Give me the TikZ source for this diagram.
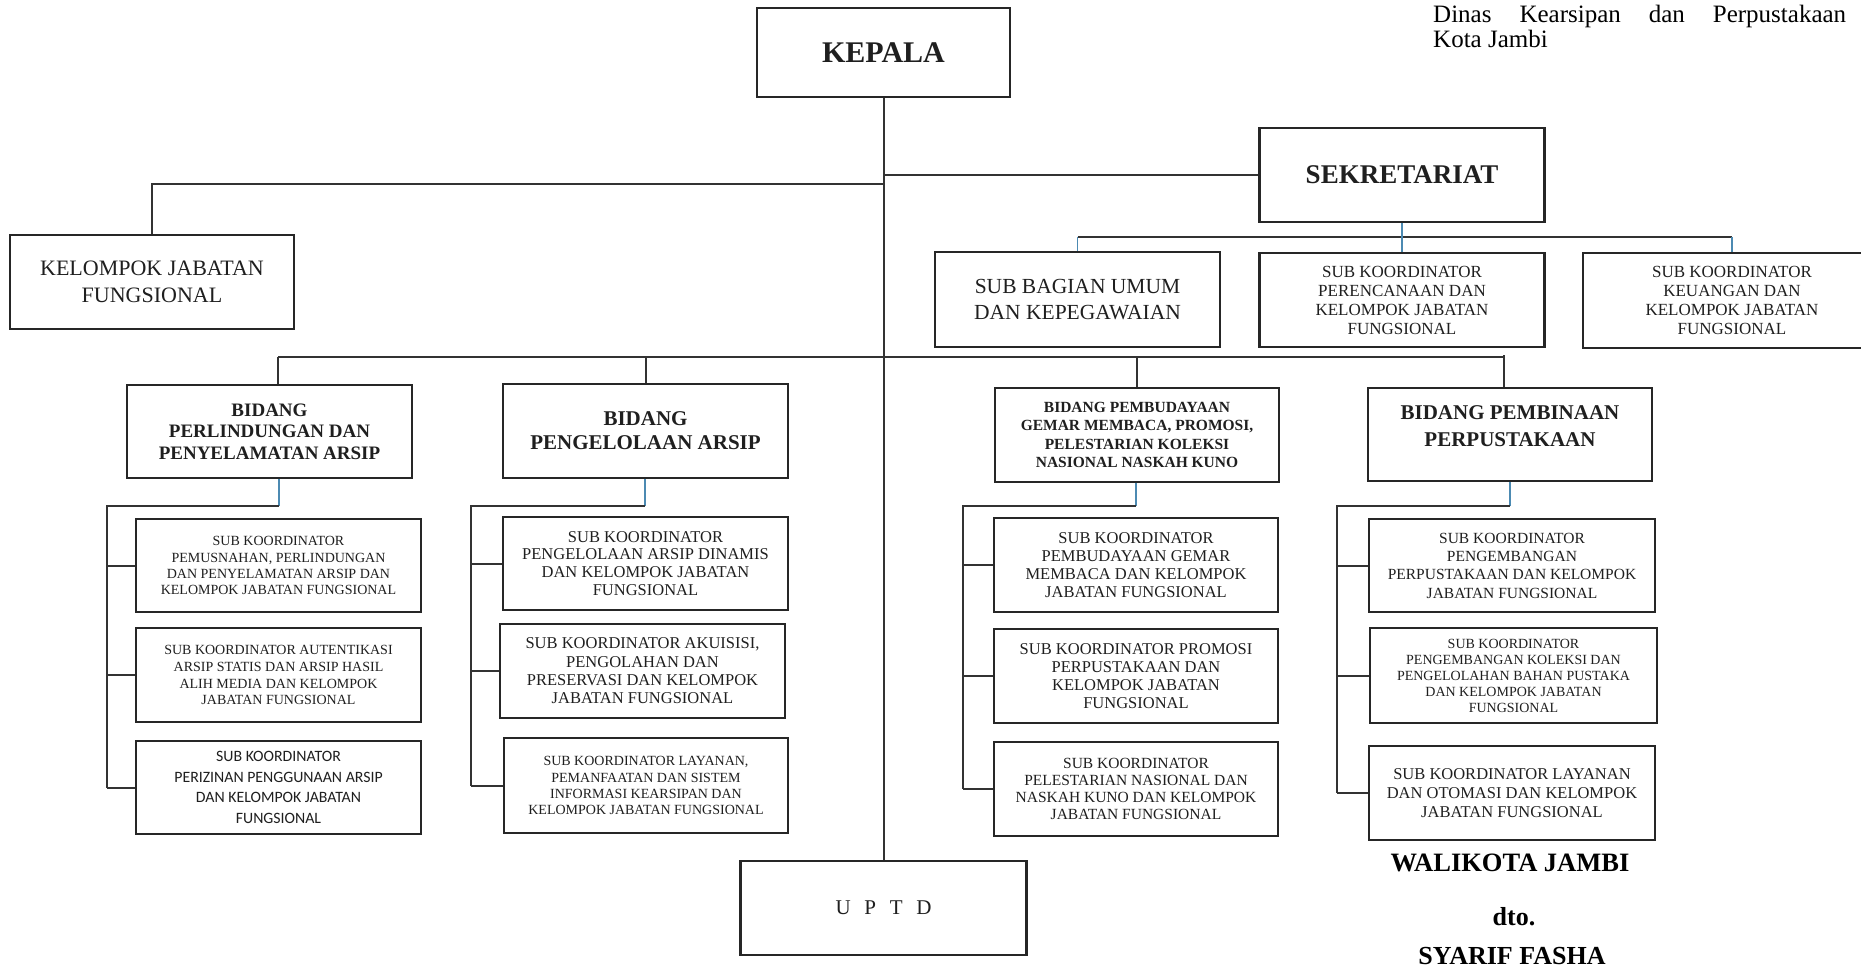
\documentclass[tikz,border=0pt]{standalone}
\usepackage{fontspec}
\setmainfont{Liberation Serif}
\newfontfamily\sansf{Carlito}
\newcommand{\FSZ}[2]{\fontsize{#1}{#2}\selectfont}
\begin{document}
\begin{tikzpicture}[x=1pt,y=-1pt,
  box/.style={draw=black!85, line width=2.2pt, fill=white, align=center, inner sep=0pt, text=black!88},
  conn/.style={draw=black!80, line width=2pt},
  bluelink/.style={draw=blue!40!cyan!40!gray, line width=1.2pt},
  plain/.style={inner sep=0pt, align=center}]
\useasboundingbox (0,0) rectangle (1861,967);
\clip (0,0) rectangle (1861,967);
\fill[white] (0,0) rectangle (1861,967);

% header text
\node[plain, anchor=base west, font=\FSZ{25}{28}] (hdra) at (1433,22) {\makebox[413pt][s]{Dinas\hfill Kearsipan\hfill dan\hfill Perpustakaan}};
\node[plain, anchor=base west, font=\FSZ{25}{28}] (hdrb) at (1433,47) {Kota Jambi};

% top level
\node[box, minimum width=253pt, minimum height=89pt, font=\bfseries\FSZ{30}{34}] (kepala) at (883.5,52.5) {KEPALA};
\node[box, minimum width=285pt, minimum height=94pt, font=\bfseries\FSZ{27}{30}] (sek) at (1402,175) {SEKRETARIAT};
\node[box, minimum width=284pt, minimum height=94pt, font=\FSZ{22}{27}] (kjf) at (152,282) {KELOMPOK JABATAN\\FUNGSIONAL};
\node[box, minimum width=286pt, minimum height=94pt, font=\FSZ{21}{24}] (uptd) at (883.5,908) {\makebox[96pt][s]{U\hfill P\hfill T\hfill D}};

% sekretariat children
\node[box, minimum width=285pt, minimum height=95pt, font=\FSZ{21.5}{26.7}] (sbu) at (1077.5,299.5) {SUB BAGIAN UMUM\\DAN KEPEGAWAIAN};
\node[box, minimum width=285pt, minimum height=94pt, font=\FSZ{17}{19}] (per) at (1402,300) {SUB KOORDINATOR\\PERENCANAAN DAN\\KELOMPOK JABATAN\\FUNGSIONAL};
\node[box, minimum width=298pt, minimum height=95pt, font=\FSZ{17}{19}] (keu) at (1732,300.5) {SUB KOORDINATOR\\KEUANGAN DAN\\KELOMPOK JABATAN\\FUNGSIONAL};

% bidang
\node[box, minimum width=285pt, minimum height=93pt, font=\bfseries\FSZ{19}{21.7}] (b1) at (269.5,431.5) {BIDANG\\PERLINDUNGAN DAN\\PENYELAMATAN ARSIP};
\node[box, minimum width=285pt, minimum height=94pt, font=\bfseries\FSZ{21}{24}] (b2) at (645.5,431) {BIDANG\\PENGELOLAAN ARSIP};
\node[box, minimum width=284pt, minimum height=94pt, font=\bfseries\FSZ{15.5}{18.3}] (b3) at (1137,435) {BIDANG PEMBUDAYAAN\\GEMAR MEMBACA, PROMOSI,\\PELESTARIAN KOLEKSI\\NASIONAL NASKAH KUNO};
\node[box, minimum width=284pt, minimum height=93pt, font=\bfseries\FSZ{21}{26.7}] (b4) at (1510,434.5) {BIDANG PEMBINAAN\\PERPUSTAKAAN\\[-10pt]};

% sub koordinator boxes
\node[box, minimum width=285pt, minimum height=93pt, font=\FSZ{14}{16.1}] (s11) at (278.5,565.5) {SUB KOORDINATOR\\PEMUSNAHAN, PERLINDUNGAN\\DAN PENYELAMATAN ARSIP DAN\\KELOMPOK JABATAN FUNGSIONAL};
\node[box, minimum width=285pt, minimum height=94pt, font=\FSZ{14}{16.9}] (s12) at (278.5,675) {SUB KOORDINATOR AUTENTIKASI\\ARSIP STATIS DAN ARSIP HASIL\\ALIH MEDIA DAN KELOMPOK\\JABATAN FUNGSIONAL};
\node[box, minimum width=285pt, minimum height=93pt, font=\sansf\FSZ{15.8}{20.6}] (s13) at (278.5,787.5) {SUB KOORDINATOR\\PERIZINAN PENGGUNAAN ARSIP\\DAN KELOMPOK JABATAN\\FUNGSIONAL};

\node[box, minimum width=285pt, minimum height=93pt, font=\FSZ{16.5}{17.8}] (s21) at (645.5,563.5) {SUB KOORDINATOR\\PENGELOLAAN ARSIP DINAMIS\\DAN KELOMPOK JABATAN\\FUNGSIONAL};
\node[box, minimum width=285pt, minimum height=94pt, font=\FSZ{16.5}{18.3}] (s22) at (642.5,671) {SUB KOORDINATOR AKUISISI,\\PENGOLAHAN DAN\\PRESERVASI DAN KELOMPOK\\JABATAN FUNGSIONAL};
\node[box, minimum width=284pt, minimum height=95pt, font=\FSZ{14}{16.1}] (s23) at (646,785.5) {SUB KOORDINATOR LAYANAN,\\PEMANFAATAN DAN SISTEM\\INFORMASI KEARSIPAN DAN\\KELOMPOK JABATAN FUNGSIONAL};

\node[box, minimum width=284pt, minimum height=94pt, font=\FSZ{16.5}{17.8}] (s31) at (1136,565) {SUB KOORDINATOR\\PEMBUDAYAAN GEMAR\\MEMBACA DAN KELOMPOK\\JABATAN FUNGSIONAL};
\node[box, minimum width=284pt, minimum height=94pt, font=\FSZ{16.5}{17.8}] (s32) at (1136,676) {SUB KOORDINATOR PROMOSI\\PERPUSTAKAAN DAN\\KELOMPOK JABATAN\\FUNGSIONAL};
\node[box, minimum width=284pt, minimum height=94pt, font=\FSZ{15.5}{17.2}] (s33) at (1136,789) {SUB KOORDINATOR\\PELESTARIAN NASIONAL DAN\\NASKAH KUNO DAN KELOMPOK\\JABATAN FUNGSIONAL};

\node[box, minimum width=286pt, minimum height=93pt, font=\FSZ{15.5}{18.3}] (s41) at (1512,565.5) {SUB KOORDINATOR\\PENGEMBANGAN\\PERPUSTAKAAN DAN KELOMPOK\\JABATAN FUNGSIONAL};
\node[box, minimum width=287pt, minimum height=95pt, font=\FSZ{14}{16}] (s42) at (1513.5,675.5) {SUB KOORDINATOR\\PENGEMBANGAN KOLEKSI DAN\\PENGELOLAHAN BAHAN PUSTAKA\\DAN KELOMPOK JABATAN\\FUNGSIONAL};
\node[box, minimum width=286pt, minimum height=94pt, font=\FSZ{16.5}{19.2}] (s43) at (1512,793) {SUB KOORDINATOR LAYANAN\\DAN OTOMASI DAN KELOMPOK\\JABATAN FUNGSIONAL};

% signature
\node[plain, font=\bfseries\FSZ{26.5}{28}] (wk) at (1510,863) {WALIKOTA JAMBI};
\node[plain, font=\bfseries\FSZ{26}{28}] (dto) at (1514,917) {dto.};
\node[plain, font=\bfseries\FSZ{26}{28}] (sf) at (1512,956) {SYARIF FASHA};

% connectors: top
\coordinate (tl) at (883.5,184);
\coordinate (tr) at (883.5,175);
\draw[conn] (kepala.south) -- (uptd.north);
\draw[conn] (tl) -| (kjf.north);
\draw[conn] (tr) -- (sek.west);

% sekretariat bar
\coordinate (sb) at (1402,237);
\draw[conn] (sbu.north |- sb) -- (keu.north |- sb);
\draw[bluelink] (sek.south) -- (per.north);
\draw[bluelink] (sbu.north |- sb) -- (sbu.north);
\draw[bluelink] (keu.north |- sb) -- (keu.north);

% bidang bar
\coordinate (bb1) at (278,357);
\coordinate (bb4) at (1504,357);
\draw[conn] (bb1) -- (bb4);
\draw[conn] (bb1) -- (bb1 |- b1.north);
\draw[conn] (b2.north |- bb1) -- (b2.north);
\draw[conn] (b3.north |- bb1) -- (b3.north);
\draw[conn] (bb4) ++(0,-2) -- (bb4 |- b4.north);

% sub-level B1
\coordinate (j1) at (279,506); \coordinate (l1) at (107,506);
\draw[bluelink] (j1 |- b1.south) -- (j1);
\draw[conn] (j1) -- (l1) -- (l1 |- s13.west);
\draw[conn] (l1 |- s11.west) -- (s11.west);
\draw[conn] (l1 |- s12.west) -- (s12.west);
\draw[conn] (l1 |- s13.west) -- (s13.west);
% sub-level B2
\coordinate (j2) at (645,506); \coordinate (l2) at (471,506);
\draw[bluelink] (j2 |- b2.south) -- (j2);
\draw[conn] (j2) -- (l2) -- (l2 |- s23.west);
\draw[conn] (l2 |- s21.west) -- (s21.west);
\draw[conn] (l2 |- s22.west) -- (s22.west);
\draw[conn] (l2 |- s23.west) -- (s23.west);
% sub-level B3
\coordinate (j3) at (1136,506); \coordinate (l3) at (963,506);
\draw[bluelink] (j3 |- b3.south) -- (j3);
\draw[conn] (j3) -- (l3) -- (l3 |- s33.west);
\draw[conn] (l3 |- s31.west) -- (s31.west);
\draw[conn] (l3 |- s32.west) -- (s32.west);
\draw[conn] (l3 |- s33.west) -- (s33.west);
% sub-level B4
\coordinate (j4) at (1510,506); \coordinate (l4) at (1337,506);
\draw[bluelink] (j4 |- b4.south) -- (j4);
\draw[conn] (j4) -- (l4) -- (l4 |- s43.west);
\draw[conn] (l4 |- s41.west) -- (s41.west);
\draw[conn] (l4 |- s42.west) -- (s42.west);
\draw[conn] (l4 |- s43.west) -- (s43.west);
\end{tikzpicture}
\end{document}
